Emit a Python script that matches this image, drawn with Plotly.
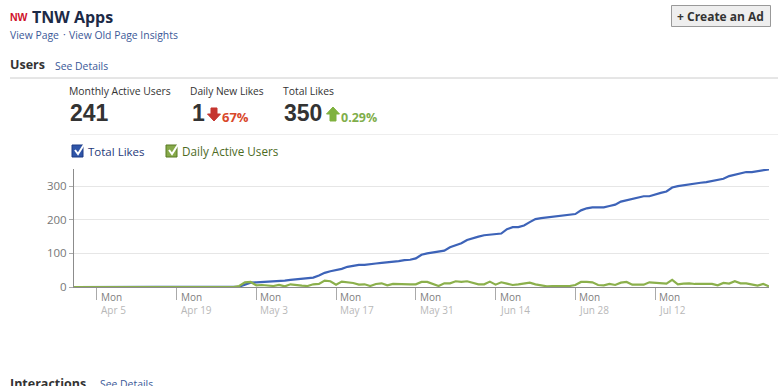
import plotly.graph_objects as go
import pandas as pd

W, H = 778, 386
L, R, T, B = 74, 9, 169, 99
FONT = "Open Sans, Liberation Sans, sans-serif"

start_date = "2010-04-01"
total_likes = [0]*29 + [1, 7, 13, 14, 15, 15, 15, 17, 19, 21, 23, 24, 26, 28, 34, 42, 47, 50, 54, 60, 64,
    66, 66, 67, 70, 72, 73, 75, 77, 80, 81, 85, 96, 100, 103, 105, 108, 118, 124, 130, 140,
    146, 150, 154, 155, 157, 159, 172, 178, 178, 183, 193, 202, 205, 207, 210, 210, 214, 215, 217, 228,
    234, 237, 237, 237, 241, 245, 254, 258, 263, 267, 270, 270, 276, 280, 284, 296, 300, 303, 306, 308,
    310, 312, 315, 318, 322, 330, 334, 337, 342, 342, 345, 348, 350]
daily_active = [0]*28 + [0, 3, 14, 15, 5, 6, 4, 3, 6, 2, 8, 5, 4, 3, 8, 9, 19, 17, 7, 16, 14, 12, 7,
    8, 3, 9, 11, 5, 9, 8, 7, 8, 8, 15, 15, 9, 3, 11, 11, 17, 15, 17, 13, 8, 8,
    16, 7, 14, 10, 6, 8, 10, 13, 8, 4, 2, 3, 3, 4, 3, 6, 15, 15, 14, 6, 5, 9, 6, 13, 15, 7,
    7, 7, 14, 12, 11, 10, 21, 8, 10, 11, 9, 8, 9, 9, 5, 12, 10, 17, 11, 11, 7, 4, 9, 2, 1]
dates = pd.date_range(start_date, periods=123, freq="D")
total_likes = total_likes[:123]
daily_active = (daily_active + [1]*123)[:123]

tick_dates = ["2010-04-05", "2010-04-19", "2010-05-03", "2010-05-17", "2010-05-31", "2010-06-14", "2010-06-28", "2010-07-12"]
tick_days = ["Mon"]*8
tick_labels = ["Apr 5", "Apr 19", "May 3", "May 17", "May 31", "Jun 14", "Jun 28", "Jul 12"]
y_ticks = [0, 100, 200, 300]

def px(x): return (x - L) / (W - L - R)
def py(y): return (H - B - y) / (H - T - B)

def text(x, y, s, size=11, color="#333", bold=False, anchor="left", family=FONT):
    return dict(xref="paper", yref="paper", x=px(x), y=py(y), text=f"<b>{s}</b>" if bold else s,
                showarrow=False, xanchor=anchor, yanchor="middle", align="left",
                font=dict(size=size, color=color, family=family), borderpad=0, borderwidth=0)

def rect(x0, y0, x1, y1, fill=None, line="#999", lw=1):
    return dict(type="rect", xref="paper", yref="paper", x0=px(x0), y0=py(y0), x1=px(x1), y1=py(y1),
                fillcolor=fill or "rgba(0,0,0,0)", line=dict(color=line, width=lw), layer="below")

def hline(x0, x1, y, color):
    return dict(type="line", xref="paper", yref="paper", x0=px(x0), x1=px(x1), y0=py(y), y1=py(y),
                line=dict(color=color, width=1), layer="below")

def poly(points, fill=None, line=None, lw=1):
    path = "M " + " L ".join(f"{px(a):.5f},{py(b):.5f}" for a, b in points)
    if fill:
        path += " Z"
    return dict(type="path", xref="paper", yref="paper", path=path,
                fillcolor=fill or "rgba(0,0,0,0)", line=dict(color=line or fill, width=lw), layer="above")

fig = go.Figure()
fig.add_trace(go.Scatter(x=dates, y=total_likes, name="Total Likes", mode="lines",
                         line=dict(color="#3d63b8", width=2.2), cliponaxis=False, hoverinfo="skip"))
fig.add_trace(go.Scatter(x=dates, y=daily_active, name="Daily Active Users", mode="lines",
                         line=dict(color="#8bb04c", width=2.2), cliponaxis=False, hoverinfo="skip"))

ann = [
    text(9.5, 17, "NW", 10.5, "#d0112b", True, family="Liberation Sans"),
    text(32, 17, "TNW Apps", 16, "#1c2a47", True),
    text(10, 35, "View Page", 10.4, "#3b5998"),
    text(63, 34, "·", 10.4, "#3b5998"),
    text(69, 35, "View Old Page Insights", 10.4, "#3b5998"),
    text(10, 65, "Users", 12.5, "#333", True),
    text(55, 66, "See Details", 10.4, "#3b5998"),
    text(69, 91, "Monthly Active Users", 10.4, "#333"),
    text(190, 91, "Daily New Likes", 10.2, "#333"),
    text(283, 91, "Total Likes", 10.4, "#333"),
    text(70, 113, "241", 23, "#333", True, family="Liberation Sans"),
    text(192, 113, "1", 23, "#333", True, family="Liberation Sans"),
    text(284, 113, "350", 23, "#333", True, family="Liberation Sans"),
    text(222, 117, "67%", 13, "#d9482b", True),
    text(341, 117, "0.29%", 12.5, "#7fae4b", True),
    text(88, 151, "Total Likes", 11.5, "#1f3a7a"),
    text(182, 151, "Daily Active Users", 11.7, "#4d6b1f"),
    text(720.5, 16, "+ Create an Ad", 12, "#333", True, anchor="center"),
    text(10, 383, "Interactions", 12.5, "#333", True),
    text(100, 384, "See Details", 10.4, "#3b5998"),
]
for d, day, lab in zip(tick_dates, tick_days, tick_labels):
    ann.append(dict(xref="x", yref="paper", x=d, y=py(297), xshift=3, text=day, showarrow=False, xanchor="left",
                    yanchor="middle", font=dict(size=10, color="#808080", family=FONT), borderpad=0))
    ann.append(dict(xref="x", yref="paper", x=d, y=py(310), xshift=3, text=lab, showarrow=False, xanchor="left",
                    yanchor="middle", font=dict(size=10, color="#b8b8b8", family=FONT), borderpad=0))

shapes = [
    hline(10, 778, 78, "#cccccc"),
    hline(70, 778, 134.5, "#eeeeee"),
    rect(671.5, 5.5, 770.5, 26.5, "#eeeeee", "#999999"),
    rect(72, 145, 83, 157, "#2f55a8", "#1d3b85"),
    poly([(75, 150), (78, 154), (85, 143)], None, "#ffffff", 2),
    rect(166, 145, 177, 157, "#86a94a", "#587a22"),
    poly([(169, 150), (172, 154), (179, 143)], None, "#ffffff", 2),
    poly([(211, 108), (217, 108), (217, 114), (220.5, 114), (214, 121), (207.5, 114), (211, 114)], "#c5352f"),
    poly([(330, 121), (336, 121), (336, 114), (339.5, 114), (333, 107), (326.5, 114), (330, 114)], "#7fb23f"),
]

fig.update_layout(
    width=W, height=H, autosize=False, showlegend=False,
    margin=dict(l=L, r=R, t=T, b=B, pad=0),
    paper_bgcolor="white", plot_bgcolor="white",
    font=dict(family=FONT, size=11, color="#777"),
    annotations=ann, shapes=shapes,
    xaxis=dict(type="date", range=["2010-04-01", "2010-08-01"], showgrid=False, zeroline=False,
               tickvals=tick_dates, showticklabels=False, ticks="outside", ticklen=12, tickcolor="#aaaaaa",
               tickwidth=1, showline=True, linecolor="#8c8c8c", linewidth=1),
    yaxis=dict(range=[0, 351], tickvals=y_ticks, ticks="outside", ticklen=4, tickcolor="#aaaaaa",
               showgrid=True, gridcolor="#e6e6e6", gridwidth=1, zeroline=False,
               showline=True, linecolor="#8c8c8c", linewidth=1,
               tickfont=dict(size=11.5, color="#777777", family=FONT)),
)
fig.write_html("out.html", config={"displayModeBar": False},
               post_script="document.body.style.margin='0';document.documentElement.style.overflow='hidden';")
